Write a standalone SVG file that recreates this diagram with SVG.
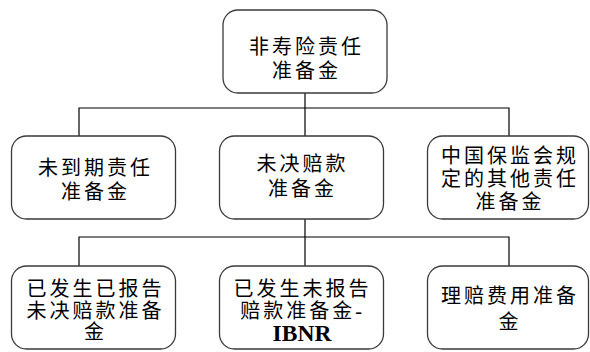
<svg xmlns="http://www.w3.org/2000/svg" width="590" height="352" viewBox="0 0 590 352">
<style>
.box{fill:#fff;stroke:#3a3a3a;stroke-width:1.3}
.t{font-family:"Liberation Serif","Noto Sans CJK SC",serif;font-size:20px;fill:#000;text-anchor:middle;letter-spacing:3px}
.b{font-family:"Liberation Serif","Noto Sans CJK SC",serif;font-size:23.5px;font-weight:bold;fill:#000;text-anchor:middle}
.c{fill:none;stroke:#000;stroke-width:1.2}
</style>
<rect width="590" height="352" fill="#fff"/>
<g id="connectors">
<path class="c" d="M305,93 V108 M79,136 V108 H509 V136 M305,108 V136"/>
<path class="c" d="M305,219 V237 M79,266 V237 H509 V266 M305,237 V266"/>
</g>
<g id="root">
<rect class="box" x="223" y="10" width="164" height="83" rx="15"/>
<text class="t" x="306.5" y="54">非寿险责任</text>
<text class="t" x="306.5" y="78">准备金</text>
</g>
<g id="n1">
<rect class="box" x="11.5" y="136" width="164" height="83" rx="15"/>
<text class="t" x="95.5" y="175">未到期责任</text>
<text class="t" x="95.5" y="199">准备金</text>
</g>
<g id="n2">
<rect class="box" x="219.5" y="136" width="164" height="83" rx="15"/>
<text class="t" x="302.5" y="171">未决赔款</text>
<text class="t" x="302.5" y="196">准备金</text>
</g>
<g id="n3">
<rect class="box" x="427.5" y="136" width="161" height="83" rx="15"/>
<text class="t" x="510" y="163">中国保监会规</text>
<text class="t" x="510" y="186">定的其他责任</text>
<text class="t" x="510" y="209">准备金</text>
</g>
<g id="n4">
<rect class="box" x="11.5" y="266" width="164" height="83" rx="15"/>
<text class="t" x="95.5" y="296">已发生已报告</text>
<text class="t" x="95.5" y="318">未决赔款准备</text>
<text class="t" x="95.5" y="339">金</text>
</g>
<g id="n5">
<rect class="box" x="219.5" y="266" width="164" height="83" rx="15"/>
<text class="t" x="302.5" y="296">已发生未报告</text>
<text class="t" x="302.5" y="318">赔款准备金-</text>
<text class="b" x="302" y="341">IBNR</text>
</g>
<g id="n6">
<rect class="box" x="427.5" y="266" width="161" height="83" rx="15"/>
<text class="t" x="510" y="303">理赔费用准备</text>
<text class="t" x="510" y="329">金</text>
</g>
</svg>
